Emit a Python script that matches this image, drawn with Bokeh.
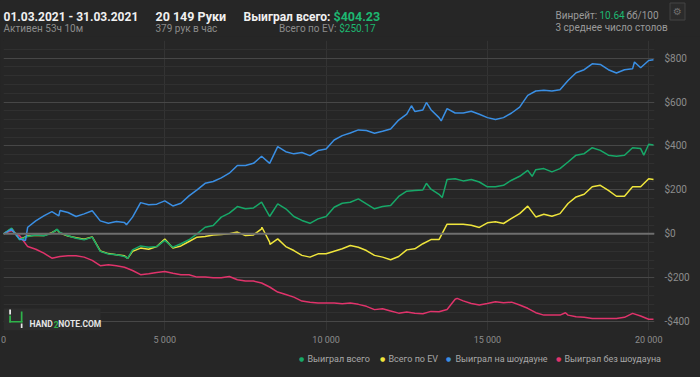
from bokeh.plotting import figure
from bokeh.models import (Range1d, FixedTicker, CustomJSTickFormatter, Span, Label,
                          BoxAnnotation)
from bokeh.embed import file_html
from bokeh.resources import INLINE

# ---------------- data ----------------
hands = [0, 250, 500, 750, 1000, 1250, 1500, 1750, 2000, 2250,
         2500, 2750, 3000, 3250, 3500, 3750, 4000, 4250, 4500, 4750,
         5000, 5250, 5500, 5750, 6000, 6250, 6500, 6750, 7000, 7250,
         7500, 7750, 8000, 8250, 8500, 8750, 9000, 9250, 9500, 9750,
         10000, 10250, 10500, 10750, 11000, 11250, 11500, 11750, 12000, 12250,
         12500, 12750, 13000, 13250, 13500, 13750, 14000, 14250, 14500, 14750,
         15000, 15250, 15500, 15750, 16000, 16250, 16500, 16750, 17000, 17250,
         17500, 17750, 18000, 18250, 18500, 18750, 19000, 19250, 19500, 19750,
         20000, 20149]

won_total = [0, 26, -27, -12, -5, -9, 3, 6, -9, -20,
             -27, -15, -80, -92, -95, -103, -73, -55, -61, -58,
             -30, -61, -45, -27, 0, 30, 38, 76, 94, 124,
             114, 118, 144, 79, 136, 114, 79, 61, 48, 68,
             79, 121, 139, 144, 159, 136, 114, 124, 129, 170,
             194, 197, 200, 203, 180, 247, 251, 241, 247, 236,
             214, 214, 221, 244, 262, 289, 292, 297, 282, 297,
             327, 358, 365, 392, 380, 358, 353, 358, 392, 388,
             408, 404]

ev_total = [0, 24, -25, -10, -6, -8, 5, 4, -10, -18,
            -25, -14, -78, -90, -95, -100, -80, -65, -70, -58,
            -24, -65, -55, -35, -15, -12, -5, -3, 0, 8,
            -8, -5, 23, -38, -23, -58, -76, -98, -106, -91,
            -91, -79, -68, -53, -61, -76, -98, -106, -118, -103,
            -73, -68, -45, -26, -26, 44, 44, 44, 39, 29,
            50, 55, 47, 70, 92, 126, 77, 89, 80, 92,
            138, 168, 180, 214, 221, 198, 171, 171, 214, 214,
            251, 247]

won_showdown = [0, 21, -24, 30, 59, 82, 101, 106, 97, 79,
                91, 105, 59, 48, 56, 52, 76, 142, 132, 135,
                150, 127, 139, 173, 200, 230, 238, 255, 276, 311,
                311, 321, 353, 321, 397, 374, 364, 370, 356, 379,
                386, 427, 447, 459, 473, 470, 458, 467, 477, 518,
                545, 557, 564, 565, 529, 570, 550, 550, 558, 544,
                529, 520, 529, 550, 577, 630, 650, 653, 650, 656,
                698, 733, 747, 774, 771, 747, 732, 747, 751, 756,
                789, 792]

won_no_showdown = [0, 15, -9, -58, -70, -88, -111, -103, -100, -100,
                   -106, -121, -145, -141, -145, -152, -167, -186, -182, -176,
                   -171, -179, -186, -186, -197, -197, -200, -200, -194, -209,
                   -215, -215, -224, -242, -265, -276, -288, -306, -311, -315,
                   -315, -315, -318, -315, -321, -330, -345, -341, -351, -361,
                   -356, -361, -364, -353, -355, -344, -298, -305, -317, -324,
                   -317, -309, -314, -311, -324, -339, -359, -370, -370, -370,
                   -370, -377, -380, -385, -385, -385, -385, -380, -362, -374,
                   -389, -389]

# short spikes seen between the sampled hands (hand number, value)
won_total_spikes = [(1663, 21), (3850, -112), (13110, 230), (13600, 165), (16388, 262),
                    (19848, 358)]
ev_total_spikes = [(1663, 19), (3850, -112), (8010, 30), (8260, -48)]
won_showdown_spikes = [(682, -30), (1715, 82), (3812, 41), (12646, 583), (13110, 598),
                       (13568, 514), (19559, 782)]
won_no_showdown_spikes = [(14063, -294), (17420, -359)]

series_names = ["Выиграл всего", "Всего по EV", "Выиграл на шоудауне", "Выиграл без шоудауна"]
x_ticks = [0, 5000, 10000, 15000, 20000]
y_ticks = [-400, -200, 0, 200, 400, 600, 800]
y_minor = [-440, -360, -320, -280, -240, -160, -120, -80, -40, 40, 80, 120, 160,
           240, 280, 320, 360, 440, 480, 520, 560, 640, 680, 720, 760, 840, 880]

# ---------------- style ----------------
BG = "#262626"
FONT = "Roboto"
GREEN = "#17a868"
YELLOW = "#efe53c"
BLUE = "#3a8fe4"
PINK = "#e0336b"
COLORS = [GREEN, YELLOW, BLUE, PINK]
TXT_GREEN = "#1db871"
GREY = "#8c8c8c"
LGREY = "#9a9a9a"
WHITE = "#f0f0f0"


def merged(values, spikes):
    pts = sorted(list(zip(hands, values)) + list(spikes))
    return [a for a, _ in pts], [b for _, b in pts]


def blank(h):
    f = figure(frame_width=700, frame_height=h, output_backend="svg", toolbar_location=None,
               title=None, x_range=Range1d(0, 700), y_range=Range1d(h, 0),
               x_axis_type=None, y_axis_type=None,
               min_border_left=0, min_border_right=0, min_border_top=0, min_border_bottom=0,
               background_fill_color=BG, border_fill_color=BG, outline_line_color=None)
    f.grid.visible = False
    return f


def lab(fig, text, x, y, size, color, bold=False, align="left", baseline="alphabetic",
        font=FONT, units="data"):
    fig.add_layout(Label(x=x, y=y, x_units=units, y_units=units, text=text,
                         text_font=font, text_font_size=size, text_color=color,
                         text_font_style="bold" if bold else "normal",
                         text_align=align, text_baseline=baseline))


# ---------------- header strip ----------------
head = blank(36)
lab(head, "01.03.2021 - 31.03.2021", 3, 16, "12px", WHITE, True)
lab(head, "Активен 53ч 10м", 3, 28, "10px", GREY)
lab(head, "20 149 Руки", 155, 16, "12.5px", WHITE, True)
lab(head, "379 рук в час", 155, 28, "10px", GREY)
lab(head, "Выиграл всего:", 243, 16, "12px", WHITE, True)
lab(head, "$404.23", 333, 16, "12.5px", TXT_GREEN, True)
lab(head, "Всего по EV:", 336, 28, "10px", GREY, align="right")
lab(head, "$250.17", 375, 28, "10px", TXT_GREEN, align="right")
lab(head, "Винрейт:", 555, 14.5, "10px", LGREY)
lab(head, "10.64", 599, 14.5, "10px", TXT_GREEN)
lab(head, "бб/100", 626, 14.5, "10px", LGREY)
lab(head, "3 среднее число столов", 555, 27, "10px", LGREY)
# settings button: a boxed gear glyph
head.add_layout(Label(x=677, y=11, text="⚙", text_font="DejaVu Sans", text_font_size="10px",
                      text_color="#6e6e6e", text_align="center", text_baseline="middle",
                      padding=3, background_fill_color="#2b2b2b", border_line_color="#444444"))

# ---------------- main chart ----------------
p = figure(width=700, height=311, output_backend="svg", toolbar_location=None, title=None,
           x_range=Range1d(0, 20180), y_range=Range1d(-440, 880), y_axis_location="right",
           min_border_left=3, min_border_right=46, min_border_top=4, min_border_bottom=17,
           background_fill_color=BG, border_fill_color=BG, outline_line_color=None)

p.xaxis.ticker = FixedTicker(ticks=x_ticks)
p.yaxis.ticker = FixedTicker(ticks=y_ticks, minor_ticks=y_minor)
p.xgrid.ticker = FixedTicker(ticks=x_ticks)
p.ygrid.ticker = FixedTicker(ticks=y_ticks, minor_ticks=y_minor)
p.xaxis.formatter = CustomJSTickFormatter(
    code="return tick.toString().replace(/\\B(?=(\\d{3})+(?!\\d))/g, ' ');")
p.yaxis.formatter = CustomJSTickFormatter(
    code="return (tick < 0 ? '-$' : '$') + Math.abs(tick);")

for ax in (p.xaxis[0], p.yaxis[0]):
    ax.axis_line_color = None
    ax.major_tick_line_color = None
    ax.minor_tick_line_color = None
    ax.major_tick_out = 0
    ax.major_tick_in = 0
    ax.major_label_text_color = GREY
    ax.major_label_text_font = FONT
p.xaxis.major_label_text_font_size = "9px"
p.yaxis.major_label_text_font_size = "10px"
p.xaxis.major_label_standoff = 4
p.yaxis.major_label_standoff = 6

p.xgrid.grid_line_color = "#333333"
p.ygrid.grid_line_color = "#474747"
p.ygrid.minor_grid_line_color = "#303030"

p.add_layout(Span(location=0, dimension="width", line_color="#6e6e6e", line_width=2))


def sbox(l, r, b, t, c):
    p.add_layout(BoxAnnotation(left=l, right=r, bottom=b, top=t, left_units="screen",
                               right_units="screen", bottom_units="screen", top_units="screen",
                               fill_color=c, fill_alpha=1, line_color=None))


# watermark box + logo (frame-relative screen units)
sbox(0, 97, 0, 22, "#2d2d2d")
for (l, r, b, t, c) in [(5.7, 7.5, 16, 21, "#e8e8e8"), (5.7, 7.5, 8, 15, "#2fb34a"),
                        (5.7, 19, 8, 9.6, "#2fb34a"), (17.3, 19, 8, 19, "#2fb34a"),
                        (17.3, 19, 2.5, 7, "#e8e8e8")]:
    sbox(l, r, b, t, c)
for t, x, c in [("HAND", 26, "#e6e6e6"), ("2", 50.3, "#2fb34a"), ("NOTE.COM", 54.8, "#e6e6e6")]:
    lab(p, t, x, 6.5, "8.5px", c, True, units="screen")

# series
for vals, spikes, col in [(won_no_showdown, won_no_showdown_spikes, PINK),
                          (ev_total, ev_total_spikes, YELLOW),
                          (won_total, won_total_spikes, GREEN),
                          (won_showdown, won_showdown_spikes, BLUE)]:
    xs, ys = merged(vals, spikes)
    p.line(xs, ys, color=col, line_width=1.5)

# ---------------- legend strip ----------------
leg = blank(30)
for name, col, dx, tx in zip(series_names, COLORS, [301, 382, 448, 558], [307, 388, 455, 564]):
    lab(leg, "●", dx, 11, "6px", col, align="center", baseline="middle", font="DejaVu Sans")
    lab(leg, name, tx, 11, "9px", "#a8a8a8", baseline="middle")

# three independent roots stacked (no frame alignment between them)
html = file_html([head, p, leg], INLINE, title="Hand2Note graph")
html = html.replace("</head>", "<style>html, body {background-color: #262626;}</style></head>", 1)
open("out.html", "w").write(html)
